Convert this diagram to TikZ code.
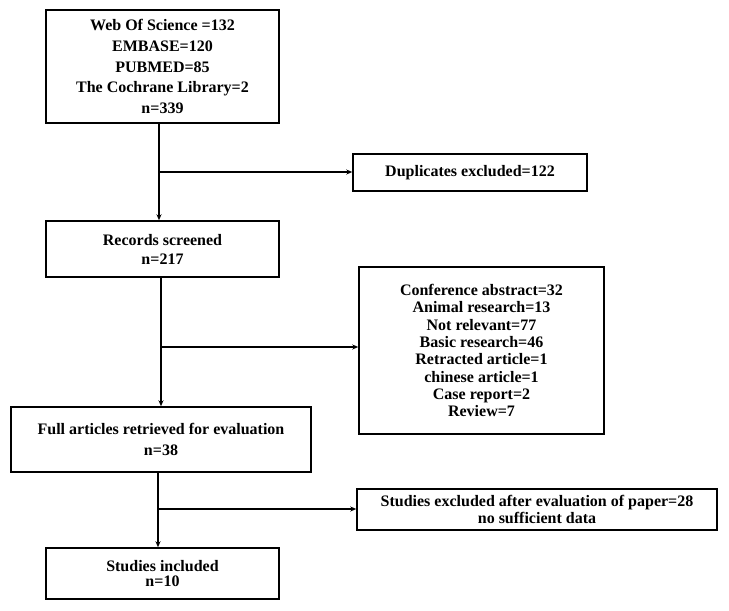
\documentclass[tikz,border=0pt]{standalone}
\usepackage{fontspec}
\setmainfont{Liberation Serif}
\usetikzlibrary{arrows.meta}
\begin{document}
\begin{tikzpicture}[x=1pt,y=-1pt,
 box/.style={draw, line width=1.5pt, rectangle, inner sep=0pt, align=center},
 conn/.style={line width=1.3pt},
 arr/.style={conn, -{Stealth[length=6pt,width=5pt]}}]
\useasboundingbox (0,0) rectangle (729,611);
\node[box, minimum width=233, minimum height=113, font=\bfseries\fontsize{16}{20.7}\selectfont] (b1) at (162.5,66.5)
 {Web Of Science =132\\EMBASE=120\\PUBMED=85\\The Cochrane Library=2\\n=339};
\node[box, minimum width=233, minimum height=56, font=\bfseries\fontsize{16}{19}\selectfont] (b2) at (162.5,249)
 {Records screened\\n=217};
\node[box, minimum width=234, minimum height=37, font=\bfseries\fontsize{16}{19}\selectfont] (dup) at (470,172.5)
 {Duplicates excluded=122};
\node[box, minimum width=245, minimum height=167, font=\bfseries\fontsize{16}{17.3}\selectfont] (big) at (481.5,350.5)
 {Conference abstract=32\\Animal research=13\\Not relevant=77\\Basic research=46\\Retracted article=1\\chinese article=1\\Case report=2\\Review=7};
\node[box, minimum width=300, minimum height=65, font=\bfseries\fontsize{16}{21}\selectfont] (b3) at (161,439.5)
 {Full articles retrieved for evaluation\\n=38};
\node[box, minimum width=360, minimum height=41, font=\bfseries\fontsize{16}{17}\selectfont] (excl) at (537,509.5)
 {Studies excluded after evaluation of paper=28\\no sufficient data};
\node[box, minimum width=233, minimum height=51, font=\bfseries\fontsize{16}{14.5}\selectfont] (b4) at (162.5,573.5)
 {Studies included\\n=10};
\coordinate (j1) at (159,172);
\coordinate (j2) at (161,347);
\coordinate (j3) at (158,509);
\draw[arr] (b1.south -| j1) -- (b2.north -| j1);
\draw[arr] (j1) -- (dup.west |- j1);
\draw[arr] (b2.south -| j2) -- (b3.north -| j2);
\draw[arr] (j2) -- (big.west |- j2);
\draw[arr] (b3.south -| j3) -- (b4.north -| j3);
\draw[arr] (j3) -- (excl.west |- j3);
\end{tikzpicture}
\end{document}
